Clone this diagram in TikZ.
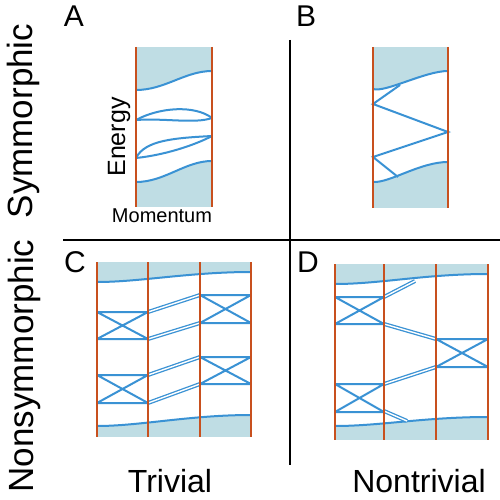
\documentclass[tikz,border=0pt]{standalone}
\usepackage{fontspec}
\setmainfont{Liberation Sans}
\definecolor{bandfill}{RGB}{191,221,228}
\definecolor{bandline}{RGB}{58,146,212}
\definecolor{zone}{RGB}{200,80,30}
\begin{document}
\begin{tikzpicture}[x=1pt,y=-1pt,
  band/.style={draw=bandline,line width=2pt},
  dbl/.style={draw=bandline,double=white,double distance=1.4pt,line width=1.3pt},
  zb/.style={draw=zone,line width=2.1pt},
  sep/.style={draw=black,line width=2pt},
  lbl/.style={font=\fontsize{30}{30}\selectfont,inner sep=0pt},
  side/.style={font=\fontsize{35}{35}\selectfont,inner sep=0pt,rotate=90,anchor=base},
  bottomlbl/.style={font=\fontsize{32}{32}\selectfont,inner sep=0pt,anchor=base}]
\useasboundingbox (0,0) rectangle (500,500);

% separators
\draw[sep] (63,240) -- (500,240);
\draw[sep] (290,40) -- (290,465);

% ---------- Panel A ----------
\fill[bandfill] (136,47) rectangle (212,207);
\fill[white] (136,90) .. controls (165,90) and (185,71) .. (212,71) -- (212,161)
  .. controls (185,161) and (165,182) .. (136,182) -- cycle;
\draw[band] (136,90) .. controls (165,90) and (185,71) .. (212,71);
\draw[band] (136,182) .. controls (165,182) and (185,161) .. (212,161);
\draw[band] (136,120) .. controls (160,107) and (195,105) .. (212,118);
\draw[band] (136,120) .. controls (165,118) and (195,124) .. (212,118);
\draw[band] (136,158) .. controls (145,140) and (175,138) .. (212,136);
\draw[band] (136,158) .. controls (165,155) and (195,145) .. (212,136);
\draw[zb] (136,47) -- (136,207);
\draw[zb] (212,47) -- (212,207);

% ---------- Panel B ----------
\fill[bandfill] (373,47) rectangle (448,208);
\fill[white] (373,89) .. controls (385,93) and (425,71) .. (448,71) -- (448,162)
  .. controls (420,162) and (390,183) .. (373,182) -- cycle;
\draw[band] (373,89) .. controls (385,93) and (425,71) .. (448,71);
\draw[band] (373,182) .. controls (390,183) and (420,162) .. (448,162);
\draw[band] (400,85) -- (373,104) -- (448,132) -- (373,157) -- (398,177);
\draw[zb] (373,47) -- (373,208);
\draw[zb] (448,47) -- (448,208);

% ---------- Panel C ----------
\fill[bandfill] (97,262) rectangle (251,437);
\fill[white] (97,282) .. controls (140,282) and (190,272) .. (251,272) -- (251,415)
  .. controls (190,415) and (140,426) .. (97,426) -- cycle;
\draw[band] (97,282) .. controls (140,282) and (190,272) .. (251,272);
\draw[band] (97,426) .. controls (140,426) and (190,415) .. (251,415);
\draw[band] (97,312) -- (148,312) (97,339) -- (148,339) (97,312) -- (148,339) (97,339) -- (148,312);
\draw[band] (97,375) -- (148,375) (97,403) -- (148,403) (97,375) -- (148,403) (97,403) -- (148,375);
\draw[band] (200,295) -- (251,295) (200,323) -- (251,323) (200,295) -- (251,323) (200,323) -- (251,295);
\draw[band] (200,357) -- (251,357) (200,384) -- (251,384) (200,357) -- (251,384) (200,384) -- (251,357);
\draw[dbl] (148,312) -- (200,295);
\draw[dbl] (148,339) -- (200,323);
\draw[dbl] (148,375) -- (200,357);
\draw[dbl] (148,403) -- (200,384);
\foreach \x in {97,148,200,251} \draw[zb] (\x,262) -- (\x,437);

% ---------- Panel D ----------
\fill[bandfill] (335,264) rectangle (488,440);
\fill[white] (335,284) .. controls (380,284) and (425,274) .. (488,274) -- (488,417)
  .. controls (425,417) and (380,426) .. (335,426) -- cycle;
\draw[band] (335,284) .. controls (380,284) and (425,274) .. (488,274);
\draw[band] (335,426) .. controls (380,426) and (425,417) .. (488,417);
\draw[band] (335,297) -- (384,297) (335,324) -- (384,324) (335,297) -- (384,324) (335,324) -- (384,297);
\draw[band] (335,384) -- (384,384) (335,412) -- (384,412) (335,384) -- (384,412) (335,412) -- (384,384);
\draw[band] (436,339) -- (488,339) (436,367) -- (488,367) (436,339) -- (488,367) (436,367) -- (488,339);
\draw[dbl] (384,297) -- (415,281);
\draw[dbl] (384,324) -- (436,339);
\draw[dbl] (384,384) -- (436,367);
\draw[dbl] (384,411) -- (407,421);
\foreach \x in {335,384,436,488} \draw[zb] (\x,264) -- (\x,440);

% ---------- Labels ----------
\node[lbl] (la) at (74,16) {A};
\node[lbl] (lb) at (306,16) {B};
\node[lbl] (lc) at (75,262) {C};
\node[lbl] (ld) at (308,262) {D};
\node[side] (sym) at (32,121) {Symmorphic};
\node[side] (nonsym) at (33,366) {Nonsymmorphic};
\node[bottomlbl] (triv) at (170,492) {Trivial};
\node[bottomlbl] (nontriv) at (419,492) {Nontrivial};
\node[font=\fontsize{25}{25}\selectfont,inner sep=0pt,rotate=90,anchor=base] (energy) at (125,137) {Energy};
\node[font=\fontsize{20}{20}\selectfont,inner sep=0pt,anchor=base] (mom) at (162,222) {Momentum};
\end{tikzpicture}
\end{document}
